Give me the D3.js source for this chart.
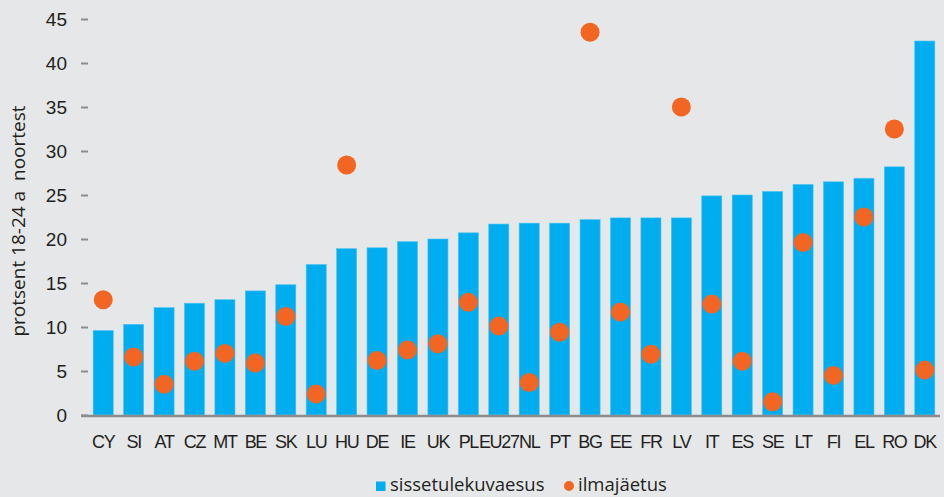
<!DOCTYPE html>
<html>
<head>
<meta charset="utf-8">
<script src="https://cdn.jsdelivr.net/npm/d3@7"></script>
<style>
	body { margin: 0; background: #e6e7e9; }
	svg { display: block; font-family: "Open Sans", "Noto Sans", sans-serif; }
</style>
</head>
<body>
<svg id="chart" width="944" height="497"></svg>
<script>
// countries, sorted by income poverty share
var countries = ["CY","SI","AT","CZ","MT","BE","SK","LU","HU","DE","IE","UK","PL","EU27",
	"NL","PT","BG","EE","FR","LV","IT","ES","SE","LT","FI","EL","RO","DK"];
// sissetulekuvaesus (bars)
var incomePoverty = [9.6,10.3,12.2,12.7,13.1,14.1,14.8,17.1,18.9,19.0,19.7,20.0,20.7,21.7,
	21.8,21.8,22.2,22.4,22.4,22.4,24.9,25.0,25.4,26.2,26.5,26.9,28.2,42.5];
// ilmajäetus (dots)
var deprivation = [13.1,6.6,3.5,6.1,7.0,5.9,11.2,2.4,28.4,6.2,7.4,8.1,12.8,10.1,
	3.7,9.4,43.5,11.7,6.9,35.0,12.6,6.1,1.5,19.6,4.5,22.5,32.5,5.1];
var yTicks = [0,5,10,15,20,25,30,35,40,45];

var svg = d3.select("#chart");

var x = d3.scaleBand()
	.domain(countries)
	.range([88, 940])
	.paddingInner(0.34)
	.paddingOuter(0.17);

var y = d3.scaleLinear()
	.domain([0, 45])
	.range([415, 19]);

// y axis: only small tick dashes + labels
var yAxis = svg.append("g")
	.attr("transform", "translate(88,0)")
	.call(d3.axisLeft(y).tickValues(yTicks).tickSize(7).tickPadding(14).tickFormat(d3.format("d")));
yAxis.select(".domain").remove();
yAxis.selectAll(".tick line").attr("stroke", "#8c8c8c").attr("stroke-width", 2);
yAxis.selectAll(".tick text").attr("fill", "#231f20").style("font-size", "19px");

// bars
svg.append("g").selectAll("rect")
	.data(countries)
	.enter().append("rect")
	.attr("x", function(d) { return x(d); })
	.attr("y", function(d, i) { return y(incomePoverty[i]); })
	.attr("width", x.bandwidth())
	.attr("height", function(d, i) { return y(0) - y(incomePoverty[i]); })
	.style("fill", "#00aeef")
	.style("stroke", "#4cc3f0")
	.style("stroke-width", 0.6);

// baseline
svg.append("line")
	.attr("x1", 81).attr("x2", 940)
	.attr("y1", y(0) + 1).attr("y2", y(0) + 1)
	.attr("stroke", "#8c8c8c")
	.attr("stroke-width", 2.5);

// dots
svg.append("g").selectAll("circle")
	.data(countries)
	.enter().append("circle")
	.attr("cx", function(d) { return x(d) + x.bandwidth() / 2; })
	.attr("cy", function(d, i) { return y(deprivation[i]); })
	.attr("r", 9.5)
	.style("fill", "#f26522");

// x axis labels
var xAxis = svg.append("g")
	.attr("transform", "translate(0," + y(0) + ")")
	.call(d3.axisBottom(x).tickSize(0).tickPadding(20));
xAxis.select(".domain").remove();
xAxis.selectAll(".tick text").attr("fill", "#231f20").style("font-size", "18px").style("letter-spacing", "-1.3px");

// y axis title
svg.append("text")
	.attr("transform", "translate(25,221) rotate(-90)")
	.attr("text-anchor", "middle")
	.attr("fill", "#231f20")
	.style("font-size", "19px")
	.style("white-space", "pre")
	.text("protsent 18-24 a  noortest");

// legend
var legend = svg.append("g");
legend.append("rect")
	.attr("x", 376).attr("y", 481.5)
	.attr("width", 9.5).attr("height", 9.5)
	.style("fill", "#00aeef");
legend.append("text")
	.attr("x", 390).attr("y", 491)
	.attr("fill", "#231f20")
	.style("font-size", "18.5px")
	.text("sissetulekuvaesus");
legend.append("circle")
	.attr("cx", 569).attr("cy", 486)
	.attr("r", 5)
	.style("fill", "#f26522");
legend.append("text")
	.attr("x", 578).attr("y", 491)
	.attr("fill", "#231f20")
	.style("font-size", "18.5px")
	.text("ilmajäetus");
</script>
</body>
</html>
